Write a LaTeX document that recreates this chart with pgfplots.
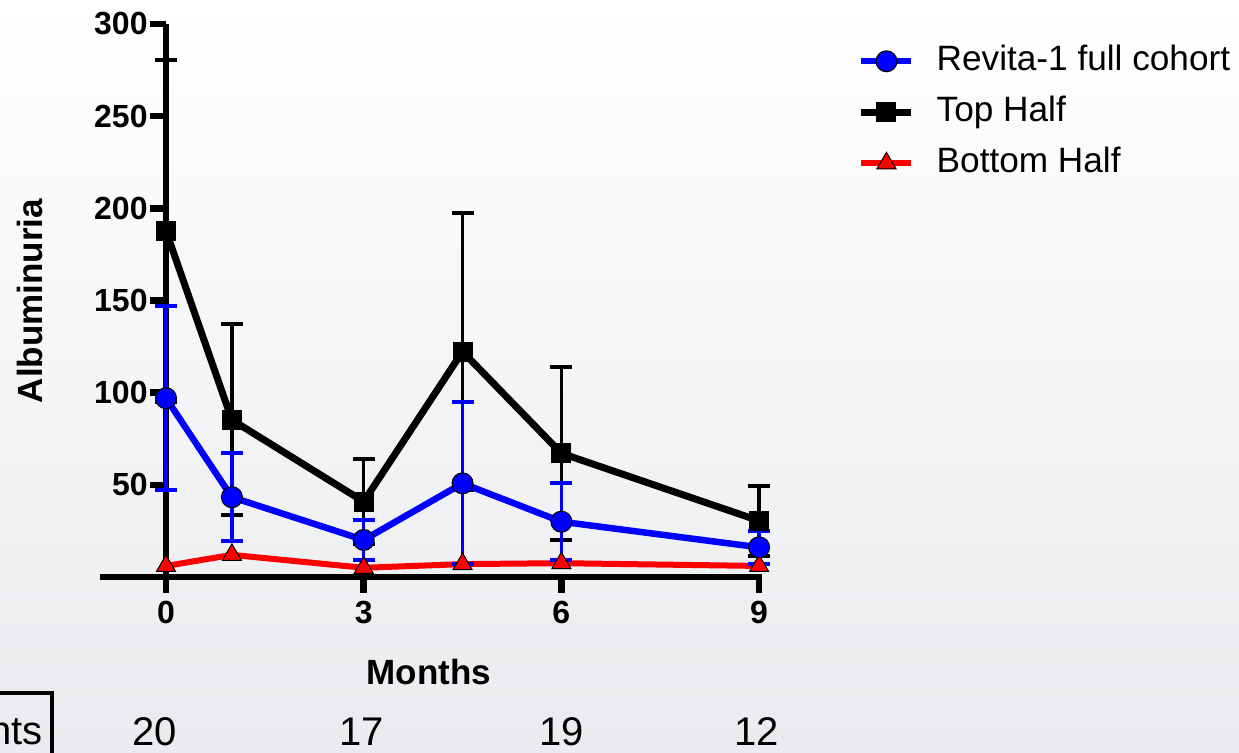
\documentclass[border=0pt]{standalone}
\usepackage{fontspec}
\setmainfont{Liberation Sans}
\usepackage{pgfplots}
\pgfplotsset{compat=1.18}
\usepackage{pgfplotstable}

\definecolor{revblue}{RGB}{0,0,255}
\definecolor{botred}{RGB}{255,0,0}
\definecolor{bglow}{RGB}{234,235,238}

% Albuminuria over time: x = month, y = mean, e = error
\pgfplotstableread{
x   y     e
0   97.0  50.0
1   43.3  23.7
3   20.1  10.8
4.5 50.8  44.0
6   30.0  21.0
9   16.1  9.0
}\fullcohort

\pgfplotstableread{
x   y     e
0   187.7 93.0
1   85.2  51.8
3   40.9  23.0
4.5 122.3 75.0
6   67.1  47.0
9   30.5  19.0
}\tophalf

\pgfplotstableread{
x   y
0   6.0
1   12.0
3   5.0
4.5 7.0
6   7.5
9   6.0
}\bottomhalf

\begin{document}
\begin{tikzpicture}
% slide background
\shade[top color=white, middle color=white, bottom color=bglow]
  (-83pt,-87.5pt) rectangle (536.5pt,288.5pt);

\begin{axis}[
  at={(0,0)}, anchor=south west,
  x=32.95pt, y=0.9217pt,
  xmin=0, xmax=9.05, ymin=0, ymax=300,
  clip=false,
  axis x line*=bottom, axis y line*=left,
  axis line style={line width=3.25pt, black},
  tick align=outside,
  major tick length=8pt,
  tick style={line width=3.25pt, black},
  xtick={0,3,6,9},
  ytick={50,100,150,200,250,300},
  /pgf/number format/assume math mode=true,
  ticklabel style={font=\bfseries\fontsize{16}{19}\selectfont},
  yticklabel style={inner sep=1pt},
  xticklabel style={inner sep=4pt},
  xlabel={Months},
  ylabel={Albuminuria},
  label style={font=\bfseries\fontsize{17.5}{21}\selectfont},
  xlabel style={at={(axis description cs:0.441,-0.1718)}, anchor=center},
  ylabel style={at={(axis description cs:-0.228,0.499)}, anchor=center},
  legend style={at={(1.160,0.964)}, anchor=north west, draw=none, fill=none,
    inner sep=0pt, row sep=8.5pt,
    font=\fontsize{17.6}{21}\selectfont,
    nodes={inner sep=0pt, text height=13pt, text depth=4pt},
    /tikz/every odd column/.append style={column sep=11pt}},
  legend cell align=left,
  legend image code/.code={
    \draw[mark repeat=2,mark phase=2,#1]
      plot coordinates {(0pt,0pt) (12.5pt,0pt) (25pt,0pt)};},
]

% legend entries in display order
\addlegendimage{color=revblue, line width=3pt, mark=*, mark size=5.25pt,
  mark options={solid, fill=revblue, draw=black, line width=0.5pt}}
\addlegendentry{Revita-1 full cohort}
\addlegendimage{color=black, line width=3.25pt, mark=square*, mark size=4.75pt,
  mark options={solid, fill=black, draw=black, line width=0.5pt}}
\addlegendentry{Top Half}
\addlegendimage{color=botred, line width=3pt, mark=triangle*, mark size=5.5pt,
  mark options={solid, fill=botred, draw=black, line width=0.5pt}}
\addlegendentry{Bottom Half}

% extension of the x axis to the left of the y axis
\draw[line width=3.25pt, black] (axis cs:-1,0) -- (axis cs:0,0);

% Top Half
\addplot[forget plot, color=black, line width=3.5pt, mark=square*, mark size=4.75pt,
  mark options={solid, fill=black, draw=black, line width=0.5pt},
  error bars/.cd, y dir=both, y explicit,
  error bar style={line width=1.75pt, black},
  error mark options={rotate=90, mark size=5.5pt, line width=2pt, black}]
  table[x=x, y=y, y error=e] {\tophalf};

% Bottom Half
\addplot[forget plot, color=botred, line width=3pt, mark=triangle*, mark size=5.5pt,
  mark options={solid, fill=botred, draw=black, line width=0.5pt}]
  table[x=x, y=y] {\bottomhalf};

% Revita-1 full cohort
\addplot[forget plot, color=revblue, line width=3.25pt, mark=*, mark size=5.25pt,
  mark options={solid, fill=revblue, draw=black, line width=0.5pt},
  error bars/.cd, y dir=both, y explicit,
  error bar style={line width=1.75pt, revblue},
  error mark options={rotate=90, mark size=5.5pt, line width=2pt, revblue}]
  table[x=x, y=y, y error=e] {\fullcohort};
\end{axis}

% patient counts below the axis
\begin{scope}[every node/.style={font=\fontsize{20}{24}\selectfont, inner sep=0pt}]
  \draw[line width=2pt, black] (-300pt,-58pt) rectangle (-57pt,-110pt);
  \node[anchor=base east] at (-61.5pt,-83.5pt) {Patients};
  \node[anchor=base] at (-5.5pt,-84pt) {20};
  \node[anchor=base] at (98pt,-84pt) {17};
  \node[anchor=base] at (198pt,-84pt) {19};
  \node[anchor=base] at (295.5pt,-84pt) {12};
\end{scope}

\pgfresetboundingbox
\path[use as bounding box] (-83pt,-87.5pt) rectangle (536.5pt,288.5pt);
\end{tikzpicture}
\end{document}
